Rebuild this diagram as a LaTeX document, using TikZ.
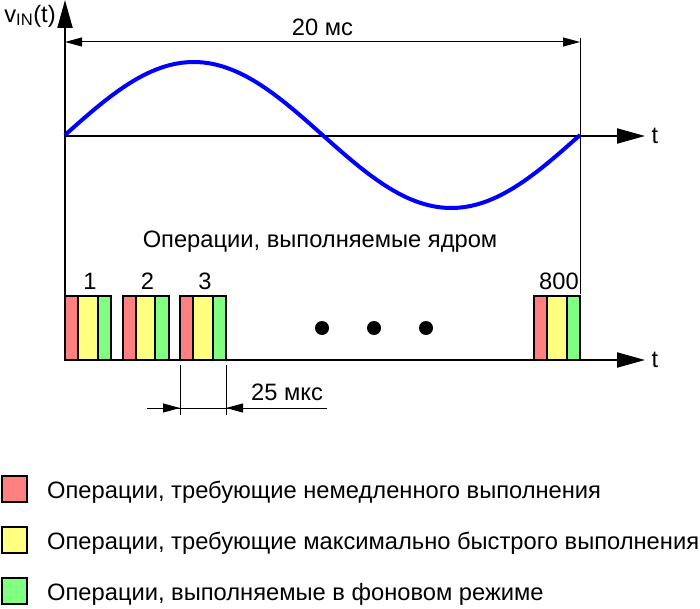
\documentclass[tikz,border=0pt]{standalone}
\usepackage{fontspec}
\setmainfont{Liberation Sans}
\usetikzlibrary{arrows.meta, positioning}
\definecolor{opred}{HTML}{FF8080}
\definecolor{opyellow}{HTML}{FFFF80}
\definecolor{opgreen}{HTML}{80FF80}
\definecolor{wave}{HTML}{0000FF}
\tikzset{
  axis/.style={line width=2pt, -{Triangle[length=28pt,width=15pt]}},
  dimline/.style={line width=1pt, {Triangle[length=17pt,width=9pt]}-{Triangle[length=17pt,width=9pt]}},
  dimarrow/.style={line width=1pt, -{Triangle[length=17pt,width=9pt]}},
  extline/.style={line width=1pt},
  seg/.style={draw, line width=2pt},
  legbox/.style={draw, line width=2pt, minimum width=25pt, minimum height=26pt, inner sep=0pt},
  legtext/.style={anchor=west, inner sep=0pt},
}
\begin{document}
\begin{tikzpicture}[x=1pt, y=-1pt, font=\fontsize{23.7}{28}\selectfont]
\useasboundingbox (0,0) rectangle (700,609);
% axes
\coordinate (o) at (65,360);
\coordinate (ytop) at (65,0);
\coordinate (s0) at (65,136);
\coordinate (sx) at (645,136);
\coordinate (tx) at (645,360);
\draw[line width=2pt] (o) -- (s0);
\draw[axis] (s0) -- (ytop);
\draw[axis] (s0) -- (sx);
\draw[axis] (o) -- (tx);
\node (vin) at (30,16) {v\textsubscript{IN}(t)};
\node[right=3pt of sx] (t1) {t};
\node[right=3pt of tx] (t2) {t};
% period
\coordinate (pl) at (65,42);
\coordinate (pr) at (580,42);
\coordinate (pb) at (580,294);
\draw[extline] (pr |- 0,38) -- (pb);
\draw[dimline] (pl) -- (pr) node[midway, above=2pt] (per) {20 мс};
% input voltage
\draw[wave, line width=4pt] plot[domain=0:515, samples=120] ({65+\x},{135-73*sin(\x/515*360)});
\node (core) at (320,242) {Операции, выполняемые ядром};
% slots
\foreach \x/\lbl [count=\i] in {65/1, 122.5/2, 180/3, 534/800} {
  \draw[seg, fill=opred] (\x,296) rectangle ++(13,64);
  \draw[seg, fill=opyellow] (\x+13,296) rectangle ++(19.5,64);
  \draw[seg, fill=opgreen] (\x+32.5,296) rectangle ++(13.5,64);
  \node (n\i) at (\x+25,281) {\lbl};
}
\foreach \x in {322,374,426} \fill (\x,328) circle (7pt);
% slot length
\coordinate (ea) at (180,365);
\coordinate (eb) at (226,365);
\draw[extline] (ea) -- ++(0,50);
\draw[extline] (eb) -- ++(0,50);
\coordinate (da) at (147,408);
\coordinate (db) at (327,408);
\draw[extline] (da) -- (db);
\draw[dimarrow] (da) -- (da -| ea);
\draw[dimarrow] (db) -- (db -| eb);
\node (slot) at (287,392) {25 мкс};
% legend
\node[legbox, fill=opred] (k1) at (14,489) {};
\node[legbox, fill=opyellow] (k2) at (14,540) {};
\node[legbox, fill=opgreen] (k3) at (14,591) {};
\node[legtext] at (47,492) {Операции, требующие немедленного выполнения};
\node[legtext] at (47,543) {Операции, требующие максимально быстрого выполнения};
\node[legtext] at (47,594) {Операции, выполняемые в фоновом режиме};
\end{tikzpicture}
\end{document}
